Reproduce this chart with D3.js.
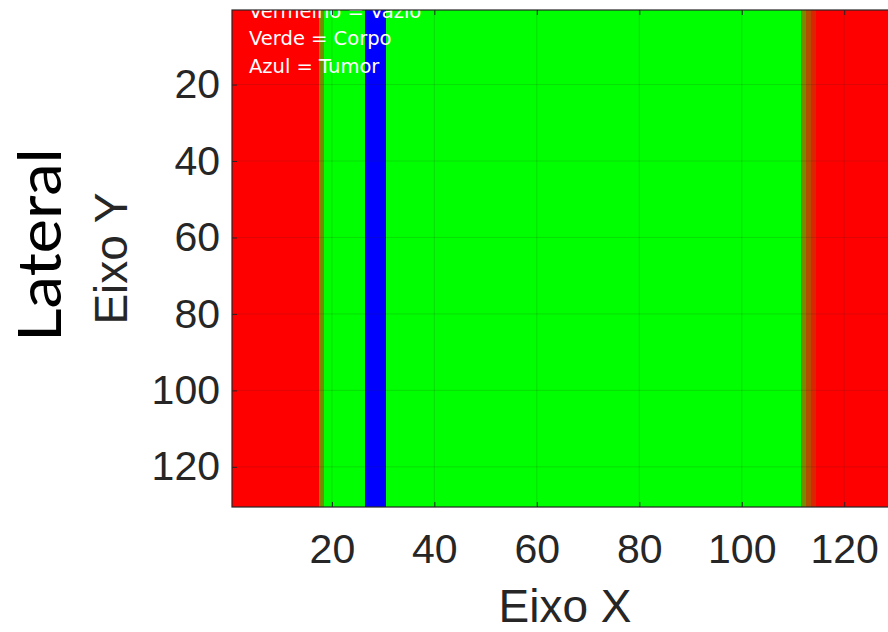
<!DOCTYPE html>
<html>
<head>
<meta charset="utf-8">
<script src="https://cdn.jsdelivr.net/npm/d3@7"></script>
<style>
body { margin: 0; background: #fff; }
</style>
</head>
<body>
<div id="main"></div>
<script>
// faixas de colunas da imagem (todas as linhas sao iguais)
const colInicio = [1, 18, 19, 27, 31, 112, 113, 114, 115];
const colFim    = [17, 18, 26, 30, 111, 112, 113, 114, 130];
// 0 = vazio, 1 = corpo, 2 = tumor; fracoes = borda suavizada
const colValor  = [0, 0.55, 1, 2, 1, 0.55, 0.3, 0.15, 0];
const nLinhas = 130;
const nColunas = 130;
const ticksX = [20, 40, 60, 80, 100, 120];
const ticksY = [20, 40, 60, 80, 100, 120];
const legenda = ["Vermelho = Vazio", "Verde = Corpo", "Azul = Tumor"];
const titulo = "Lateral";

const width = 888, height = 632;
const margin = {top: 10, right: -10, bottom: 125, left: 232};

const x = d3.scaleLinear()
    .domain([0.5, nColunas + 0.5])
    .range([margin.left, width - margin.right]);

const y = d3.scaleLinear()
    .domain([0.5, nLinhas + 0.5])
    .range([margin.top, height - margin.bottom]);

const cor = d3.scaleLinear()
    .domain([0, 1, 2])
    .range(["#ff0000", "#00ff00", "#0000ff"]);

const faixas = colInicio.map((c, i) => ({c0: c, c1: colFim[i], v: colValor[i]}));

const svg = d3.select("#main").append("svg")
    .attr("width", width)
    .attr("height", height)
    .style("display", "block");

svg.append("defs").append("clipPath")
    .attr("id", "clip")
    .append("rect")
    .attr("x", x.range()[0])
    .attr("y", y.range()[0])
    .attr("width", x.range()[1] - x.range()[0])
    .attr("height", y.range()[1] - y.range()[0]);

// imagem
svg.append("g")
    .attr("clip-path", "url(#clip)")
    .attr("shape-rendering", "crispEdges")
    .selectAll("rect")
    .data(faixas)
    .join("rect")
    .attr("x", d => x(d.c0 - 0.5))
    .attr("width", d => x(d.c1 + 0.5) - x(d.c0 - 0.5))
    .attr("y", y(0.5))
    .attr("height", y(nLinhas + 0.5) - y(0.5))
    .attr("fill", d => cor(d.v));

// grade
const grade = svg.append("g")
    .attr("stroke", "#262626")
    .attr("stroke-opacity", 0.15);

grade.selectAll(".gx")
    .data(ticksX)
    .join("line")
    .attr("x1", d => x(d))
    .attr("x2", d => x(d))
    .attr("y1", y.range()[0])
    .attr("y2", y.range()[1]);

grade.selectAll(".gy")
    .data(ticksY)
    .join("line")
    .attr("y1", d => y(d))
    .attr("y2", d => y(d))
    .attr("x1", x.range()[0])
    .attr("x2", x.range()[1]);

// legenda em texto branco
svg.append("g")
    .attr("clip-path", "url(#clip)")
    .selectAll("text")
    .data(legenda)
    .join("text")
    .attr("x", x.range()[0] + 17)
    .attr("y", (d, i) => y.range()[0] + 7.5 + i * 27.5)
    .attr("fill", "#ffffff")
    .attr("font-family", "DejaVu Sans, sans-serif")
    .attr("font-size", 19.5)
    .text(d => d);

function estilo(g) {
    g.attr("font-family", "Liberation Sans, Arial, sans-serif")
        .attr("font-size", 41);
    g.select(".domain").remove();
    g.selectAll("line").attr("stroke", "#262626");
    g.selectAll("text").attr("fill", "#262626");
}

svg.append("g")
    .attr("transform", `translate(0,${y.range()[1]})`)
    .call(d3.axisBottom(x).tickValues(ticksX).tickSizeInner(-5).tickSizeOuter(0).tickPadding(27))
    .call(estilo);

svg.append("g")
    .attr("transform", `translate(0,${y.range()[0]})`)
    .call(d3.axisTop(x).tickValues(ticksX).tickSizeInner(-5).tickSizeOuter(0).tickFormat(""))
    .call(estilo);

svg.append("g")
    .attr("transform", `translate(${x.range()[0]},0)`)
    .call(d3.axisLeft(y).tickValues(ticksY).tickSizeInner(-5).tickSizeOuter(0).tickPadding(12))
    .call(estilo);

// caixa
svg.append("rect")
    .attr("x", x.range()[0])
    .attr("y", y.range()[0])
    .attr("width", x.range()[1] - x.range()[0])
    .attr("height", y.range()[1] - y.range()[0])
    .attr("fill", "none")
    .attr("stroke", "#262626")
    .attr("stroke-width", 1.2);

// rotulos dos eixos
svg.append("text")
    .attr("x", (x.range()[0] + x.range()[1]) / 2)
    .attr("y", 622)
    .attr("text-anchor", "middle")
    .attr("font-family", "Liberation Sans, Arial, sans-serif")
    .attr("font-size", 46)
    .attr("fill", "#262626")
    .text("Eixo X");

svg.append("text")
    .attr("transform", `translate(127,${(y.range()[0] + y.range()[1]) / 2}) rotate(-90)`)
    .attr("text-anchor", "middle")
    .attr("font-family", "Liberation Sans, Arial, sans-serif")
    .attr("font-size", 46)
    .attr("fill", "#262626")
    .text("Eixo Y");

svg.append("text")
    .attr("transform", "translate(61,245) rotate(-90)")
    .attr("text-anchor", "middle")
    .attr("font-family", "Lato, sans-serif")
    .attr("font-size", 60)
    .attr("textLength", 194)
    .attr("lengthAdjust", "spacingAndGlyphs")
    .attr("fill", "#000")
    .text(titulo);
</script>
</body>
</html>
